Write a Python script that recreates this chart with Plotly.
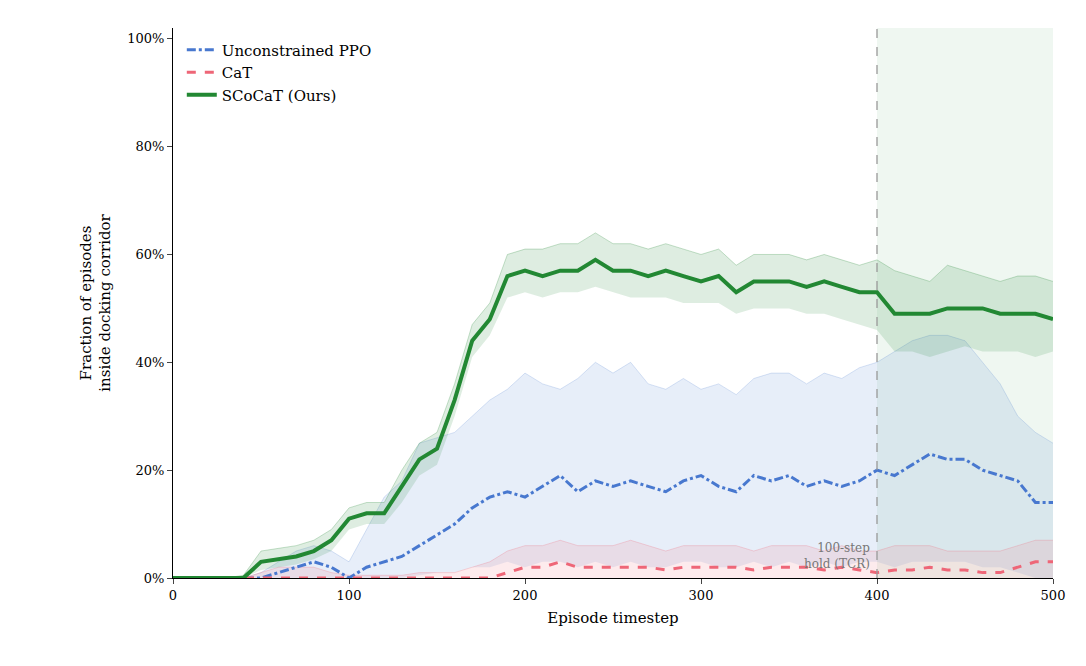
import plotly.graph_objects as go

t = list(range(0, 501, 10))
sc_mean = [0,0,0,0,0,3,3.5,4,5,7,11,12,12,17,22,24,33,44,48,56,57,56,57,57,59,57,57,56,57,56,55,56,53,55,55,55,54,55,54,53,53,49,49,49,50,50,50,49,49,49,48]
sc_lo = [0,0,0,0,0,1.5,2,2.5,3.5,5,9,10,10,14,19,21,30,41,45,52,53,52,53,53,54,53,52,52,52,51,51,51,49,50,50,50,49,49,48,47,46,42,42,41,42,43,42,42,42,41,42]
sc_hi = [0,0,0,0,0.5,5,5.5,6,7,9,13,14,14,20,25,27,36,47,51,60,61,61,62,62,64,62,62,61,62,61,60,61,58,60,60,60,59,60,59,58,59,57,56,55,58,57,56,55,56,56,55]
ppo_mean = [0,0,0,0,0,0,1,2,3,2,0,2,3,4,6,8,10,13,15,16,15,17,19,16,18,17,18,17,16,18,19,17,16,19,18,19,17,18,17,18,20,19,21,23,22,22,20,19,18,14,14]
ppo_lo = [0,0,0,0,0,0,0,0,0,0,0,0,0,0,0.5,1,1,2,2,3,2,3,3,2,3,2,3,2,2,3,3,2,2,3,2,3,2,3,2,3,3,2,3,3,3,3,2,2,1,0,0]
ppo_hi = [0,0,0,0,0,1,3,5,6,5,3,9,15,18,25,26,27,30,33,35,38,36,35,37,40,38,40,36,35,37,35,36,34,37,38,38,36,38,37,39,40,42,44,45,45,44,40,36,30,27,25]
cat_mean = [0,0,0,0,0,0,0,0,0,0,0,0,0,0,0,0,0,0,0,1,2,2,3,2,2,2,2,2,1.5,2,2,2,2,1.5,2,2,2,1.5,2,1.5,1,1.5,1.5,2,1.5,1.5,1,1,2,3,3]
cat_hi = [0,0,0,0,0,1,2,2,2,1,0.5,0.5,0.5,0.5,1,1,1,2,3,5,6,6,7,6,6,6,7,6,5,6,6,6,6,5,6,6,6,5,6,5,5,6,6,6,5,5,5,5,6,7,7]
cat_lo = [0]*51
y_ticks = [0, 20, 40, 60, 80, 100]
y_labels = ["0%", "20%", "40%", "60%", "80%", "100%"]
x_ticks = [0, 100, 200, 300, 400, 500]

fig = go.Figure()
def band(lo, hi, fill, edge):
    fig.add_trace(go.Scatter(x=t, y=lo, mode="lines", line=dict(width=0), showlegend=False, hoverinfo="skip"))
    fig.add_trace(go.Scatter(x=t, y=hi, mode="lines", fill="tonexty", fillcolor=fill,
                             line=dict(width=1, color=edge), showlegend=False, hoverinfo="skip"))

band(ppo_lo, ppo_hi, "rgba(72,120,207,0.13)", "rgba(72,120,207,0.2)")
band(cat_lo, cat_hi, "rgba(238,102,119,0.13)", "rgba(238,102,119,0.25)")
band(sc_lo, sc_hi, "rgba(34,136,51,0.15)", "rgba(34,136,51,0.25)")

fig.add_trace(go.Scatter(x=t, y=ppo_mean, mode="lines", name="Unconstrained PPO",
                         line=dict(color="#4878CF", width=3, dash="dashdot")))
fig.add_trace(go.Scatter(x=t, y=cat_mean, mode="lines", name="CaT",
                         line=dict(color="#EE6677", width=3, dash="dash")))
fig.add_trace(go.Scatter(x=t, y=sc_mean, mode="lines", name="SCoCaT (Ours)",
                         line=dict(color="#228833", width=4)))

fig.add_vrect(x0=400, x1=500, fillcolor="rgba(34,136,51,0.07)", line_width=0, layer="below")
fig.add_vline(x=400, line=dict(color="#999999", width=1.3, dash="dash"))
fig.add_annotation(x=397, y=1, text="100-step<br>hold (TCR)", showarrow=False, xanchor="right", yanchor="bottom",
                   font=dict(size=12, color="#777777", family="DejaVu Serif"), align="right")

fig.update_layout(
    width=1086, height=666, plot_bgcolor="white", paper_bgcolor="white",
    margin=dict(l=165, r=41, t=20, b=96),
    font=dict(family="DejaVu Serif", size=13, color="black"),
    legend=dict(x=0.01, y=0.99, bgcolor="rgba(0,0,0,0)", font=dict(size=15), traceorder="normal"),
    xaxis=dict(range=[0, 500], tickvals=x_ticks, showline=True, linecolor="black", automargin=False,
               ticks="outside", showgrid=False, zeroline=False,
               title=dict(text="Episode timestep", font=dict(size=15), standoff=10)),
    yaxis=dict(range=[0, 102], tickvals=y_ticks, ticktext=y_labels, showline=True, linecolor="black",
               automargin=False, ticks="outside", showgrid=False, zeroline=False,
               title=dict(text="Fraction of episodes<br>inside docking corridor", font=dict(size=15), standoff=12)),
)
fig.write_html("out.html")
